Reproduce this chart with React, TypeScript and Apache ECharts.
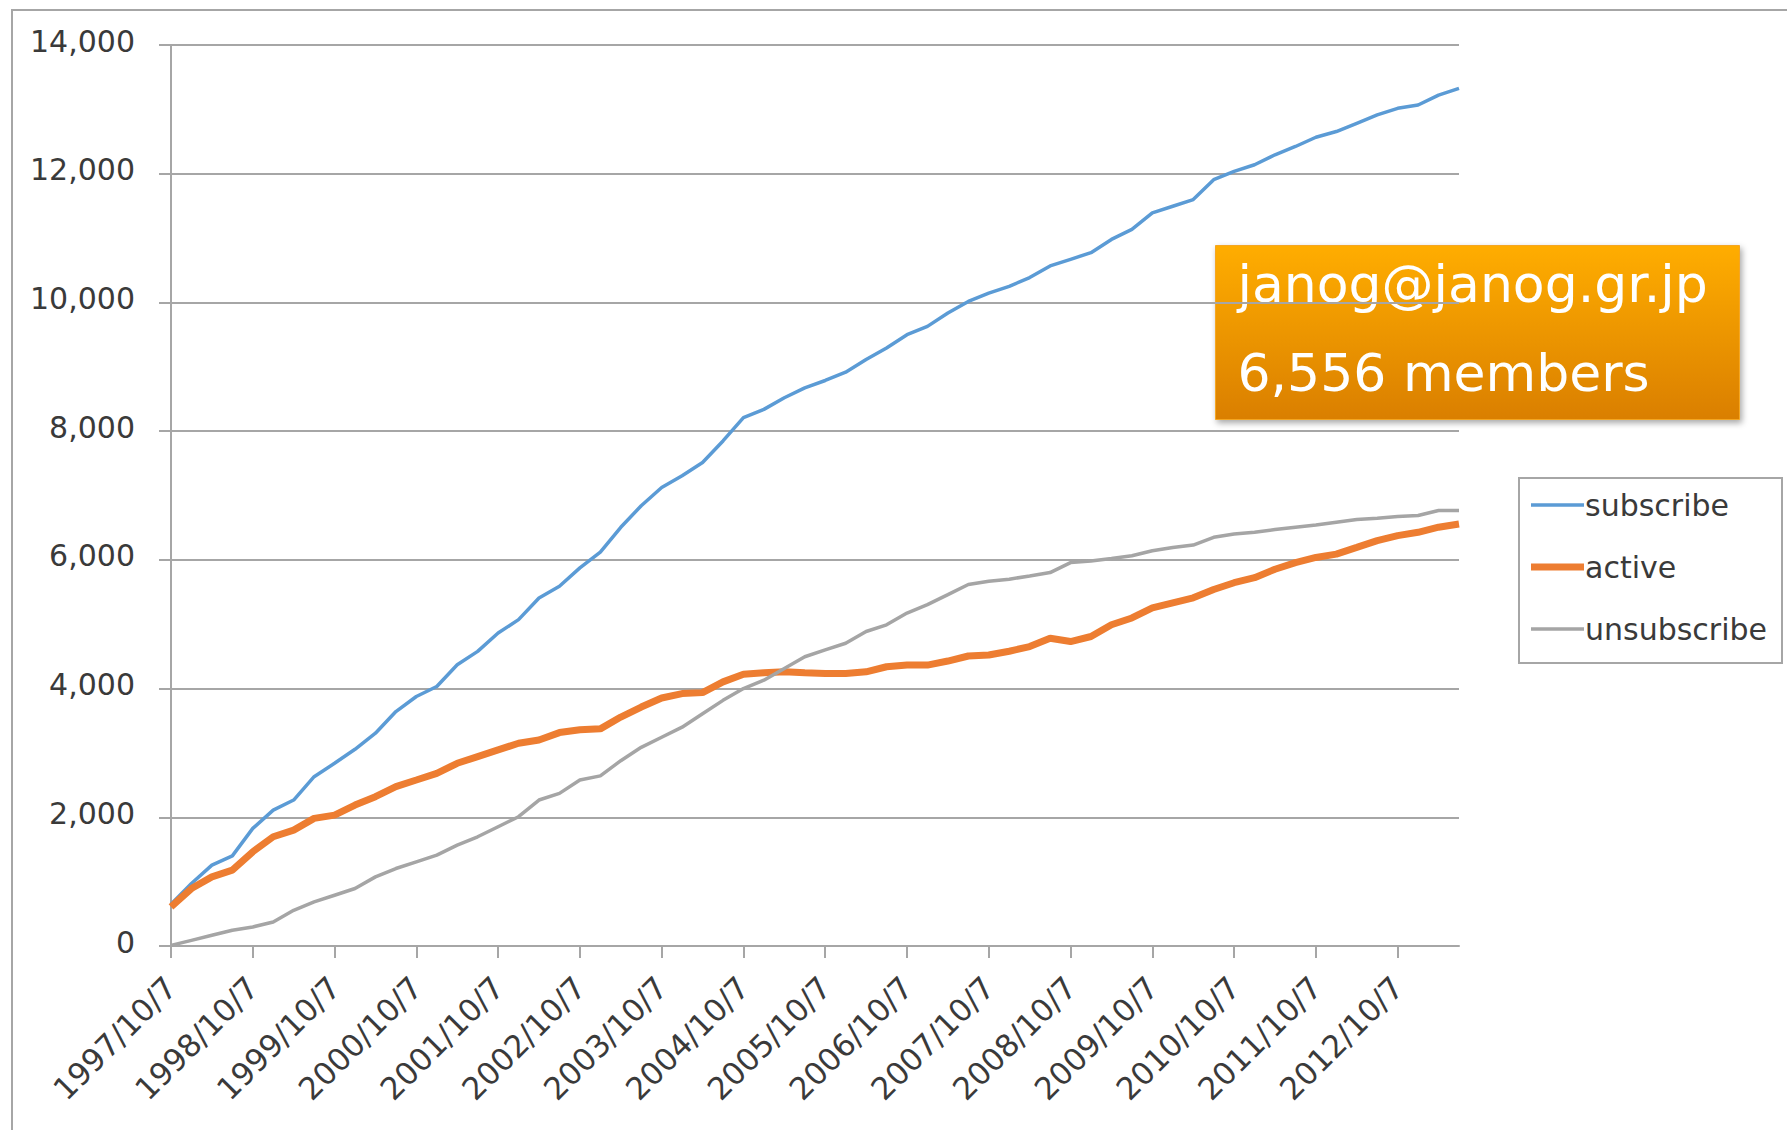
import React, { useEffect, useRef } from "react";
import * as echarts from "echarts";

const dates = [
  "1997/10/7",
  "1998/1/7", "1998/4/7", "1998/7/7", "1998/10/7",
  "1999/1/7", "1999/4/7", "1999/7/7", "1999/10/7",
  "2000/1/7", "2000/4/7", "2000/7/7", "2000/10/7",
  "2001/1/7", "2001/4/7", "2001/7/7", "2001/10/7",
  "2002/1/7", "2002/4/7", "2002/7/7", "2002/10/7",
  "2003/1/7", "2003/4/7", "2003/7/7", "2003/10/7",
  "2004/1/7", "2004/4/7", "2004/7/7", "2004/10/7",
  "2005/1/7", "2005/4/7", "2005/7/7", "2005/10/7",
  "2006/1/7", "2006/4/7", "2006/7/7", "2006/10/7",
  "2007/1/7", "2007/4/7", "2007/7/7", "2007/10/7",
  "2008/1/7", "2008/4/7", "2008/7/7", "2008/10/7",
  "2009/1/7", "2009/4/7", "2009/7/7", "2009/10/7",
  "2010/1/7", "2010/4/7", "2010/7/7", "2010/10/7",
  "2011/1/7", "2011/4/7", "2011/7/7", "2011/10/7",
  "2012/1/7", "2012/4/7", "2012/7/7", "2012/10/7",
  "2013/1/7", "2013/4/7", "2013/7/7",
];

const subscribe = [
  650, 970, 1256, 1400, 1827, 2112, 2268, 2631, 2839, 3057, 3306, 3643, 3877,
  4033, 4370, 4578, 4863, 5071, 5408, 5590, 5875, 6119, 6506, 6841, 7125,
  7306, 7512, 7848, 8209, 8338, 8519, 8673, 8787, 8916, 9112, 9293, 9499,
  9628, 9835, 10015, 10144, 10250, 10387, 10567, 10670, 10773, 10979, 11134,
  11392, 11495, 11598, 11907, 12036, 12139, 12294, 12423, 12567, 12655, 12784,
  12913, 13016, 13067, 13222, 13325,
];

const active = [
  607, 893, 1074, 1178, 1464, 1697, 1801, 1983, 2034, 2190, 2320, 2476, 2579,
  2683, 2839, 2943, 3047, 3150, 3202, 3316, 3360, 3374, 3557, 3713, 3854,
  3922, 3937, 4104, 4224, 4245, 4261, 4245, 4235, 4235, 4261, 4339, 4365,
  4365, 4428, 4506, 4522, 4580, 4653, 4783, 4731, 4809, 4992, 5097, 5253,
  5332, 5410, 5540, 5645, 5723, 5854, 5958, 6037, 6089, 6193, 6298, 6376,
  6428, 6507, 6556,
];

const unsubscribe = [
  10, 88, 166, 244, 296, 374, 555, 685, 789, 893, 1074, 1204, 1308, 1412,
  1567, 1697, 1853, 2009, 2268, 2372, 2579, 2644, 2879, 3087, 3244, 3400,
  3609, 3817, 4000, 4130, 4313, 4495, 4600, 4704, 4887, 4991, 5173, 5304,
  5460, 5617, 5669, 5700, 5749, 5802, 5958, 5984, 6021, 6063, 6141, 6193,
  6230, 6350, 6402, 6428, 6470, 6507, 6543, 6585, 6627, 6648, 6674, 6690,
  6768, 6768,
];

const seriesNames = ["subscribe", "active", "unsubscribe"];
const seriesColors = ["#5b9bd5", "#ed7d31", "#a5a5a5"];
const seriesWidths = [3.5, 7, 3.5];
const annotationLines = ["janog@janog.gr.jp", "6,556 members"];

const FONT = "DejaVu Sans";
const AXIS_GRAY = "#a6a6a6";
const TEXT = "#3a3a3a";

// legend icon: a horizontal bar of given thickness centred in a 53x14 box
function lineIcon(thickness: number) {
  const t0 = (14 - thickness) / 2;
  const t1 = t0 + thickness;
  return `path://M0,0L0.01,0L0.01,0.01ZM53,14L52.99,14L52.99,13.99ZM0,${t0}L53,${t0}L53,${t1}L0,${t1}Z`;
}

export default function App() {
  const ref = useRef<HTMLDivElement>(null);

  useEffect(() => {
    if (!ref.current) return;
    const chart = echarts.init(ref.current, null, { renderer: "svg" });
    const yearTick = (i: number) => i % 4 === 0;
    const dataSets = [subscribe, active, unsubscribe];
    chart.setOption({
      animation: false,
      backgroundColor: "#ffffff",
      grid: { left: 171, right: 328, top: 45, bottom: 184, containLabel: false },
      xAxis: {
        type: "category",
        data: dates,
        boundaryGap: false,
        axisLine: { show: true, lineStyle: { color: AXIS_GRAY, width: 2 } },
        axisTick: {
          show: true,
          interval: (i: number) => yearTick(i),
          length: 12,
          lineStyle: { color: AXIS_GRAY, width: 2 },
        },
        axisLabel: {
          interval: (i: number) => yearTick(i),
          rotate: 45,
          margin: 36,
          fontFamily: FONT,
          fontSize: 31,
          color: TEXT,
        },
        splitLine: { show: false },
      },
      yAxis: {
        type: "value",
        min: 0,
        max: 14000,
        interval: 2000,
        axisLine: { show: true, lineStyle: { color: AXIS_GRAY, width: 2 } },
        axisTick: { show: true, length: 12, lineStyle: { color: AXIS_GRAY, width: 2 } },
        axisLabel: {
          margin: 36,
          formatter: (v: number) => `{t|${v.toLocaleString("en-US")}}`,
          rich: {
            t: {
              fontFamily: FONT,
              fontSize: 30,
              lineHeight: 30,
              color: TEXT,
              padding: [0, 0, 8, 0],
            },
          },
        },
        splitLine: { show: true, lineStyle: { color: AXIS_GRAY, width: 2 } },
      },
      legend: {
        orient: "vertical",
        left: 1519,
        top: 478,
        data: seriesNames.map((n, i) => ({ name: n, icon: lineIcon(seriesWidths[i]) })),
        borderColor: AXIS_GRAY,
        borderWidth: 2,
        borderRadius: 0,
        padding: [12, 15, 19, 12],
        itemWidth: 53,
        itemHeight: 14,
        itemGap: 32,
        textStyle: { fontFamily: FONT, fontSize: 30, color: TEXT, padding: [0, 0, 0, -4] },
      },
      series: dataSets.map((d, i) => ({
        name: seriesNames[i],
        type: "line",
        data: d,
        symbol: "none",
        lineStyle: { color: seriesColors[i], width: seriesWidths[i] },
        itemStyle: { color: seriesColors[i] },
      })),
      graphic: [
        {
          type: "rect",
          shape: { x: 12, y: 10, width: 1900, height: 1300 },
          style: { fill: "none", stroke: AXIS_GRAY, lineWidth: 2 },
          silent: true,
          z: 0,
        },
        {
          type: "group",
          left: 1215,
          top: 245,
          z: 100,
          children: [
            {
              type: "rect",
              shape: { x: 0, y: 0, width: 524, height: 174 },
              style: {
                fill: new echarts.graphic.LinearGradient(0, 0, 0, 1, [
                  { offset: 0, color: "#ffad00" },
                  { offset: 1, color: "#da7f00" },
                ]),
                stroke: "#f5a623",
                lineWidth: 1,
                shadowBlur: 6,
                shadowOffsetX: 2,
                shadowOffsetY: 3,
                shadowColor: "rgba(0,0,0,0.35)",
              },
            },
            {
              type: "text",
              x: 22,
              y: 38,
              style: {
                text: annotationLines[0],
                fill: "#ffffff",
                font: `52px "${FONT}"`,
                textVerticalAlign: "middle",
              },
            },
            {
              type: "text",
              x: 22,
              y: 127,
              style: {
                text: annotationLines[1],
                fill: "#ffffff",
                font: `52px "${FONT}"`,
                textVerticalAlign: "middle",
              },
            },
          ],
        },
      ],
    });
    return () => chart.dispose();
  }, []);

  return (
    <div
      ref={ref}
      style={{ position: "fixed", left: 0, top: 0, width: 1787, height: 1130 }}
    />
  );
}
